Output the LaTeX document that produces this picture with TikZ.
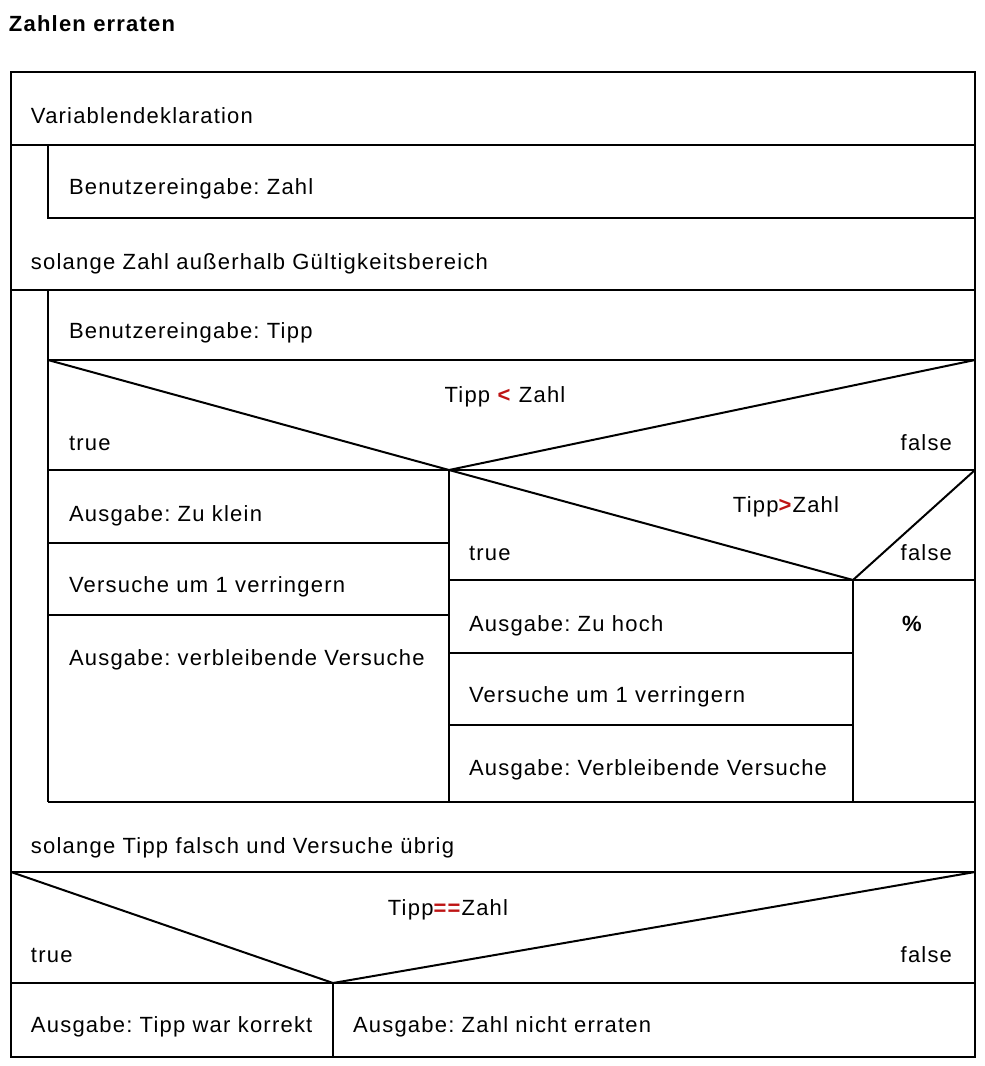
\documentclass[tikz,border=0pt]{standalone}
\usepackage{fontspec}
\setmainfont{Liberation Sans}[LetterSpace=5.5]
\frenchspacing
\definecolor{opred}{RGB}{190,20,20}
\newcommand{\opsym}[1]{\textcolor{opred}{\textbf{#1}}}
\tikzset{
  txt/.style={anchor=base west,inner sep=0pt,font=\fontsize{11}{14}\selectfont},
  txtr/.style={txt,anchor=base east},
  txtc/.style={txt,anchor=base},
}
\begin{document}
\begin{tikzpicture}[x=0.5pt,y=-0.5pt,line width=1pt]
    \useasboundingbox (0,0) rectangle (985,1066);
    \node[txt,font=\fontsize{11}{14}\selectfont\bfseries] (title) at (8,31) {Zahlen erraten};
    % frame and blocks
    \draw (11,72) rectangle (975,1057);
    \draw (11,145) -- (975,145);
    \draw (48,145) -- (48,218) -- (975,218);
    \draw (11,290) -- (975,290);
    \draw (48,290) -- (48,802);
    \draw (48,360) -- (975,360);
    \coordinate (tipA) at (449,470);
    \draw (48,360) -- (tipA) -- (975,360);
    \draw (48,470) -- (975,470);
    \draw (tipA) -- (449,802);
    \draw (48,543) -- (449,543);
    \draw (48,615) -- (449,615);
    \coordinate (tipB) at (853,580);
    \draw (tipA) -- (tipB) -- (975,470);
    \draw (449,580) -- (975,580);
    \draw (tipB) -- (853,802);
    \draw (449,653) -- (853,653);
    \draw (449,725) -- (853,725);
    \draw (48,802) -- (975,802);
    \draw (11,872) -- (975,872);
    \coordinate (tipC) at (333,983);
    \draw (11,872) -- (tipC) -- (975,872);
    \draw (11,983) -- (975,983);
    \draw (tipC) -- (333,1057);
    % texts
    \node[txt] (decl) at (30,123) {Variablendeklaration};
    \node[txt] (inZahl) at (68,194) {Benutzereingabe: Zahl};
    \node[txt] (loop1) at (30,269) {solange Zahl außerhalb Gültigkeitsbereich};
    \node[txt] (inTipp) at (68,338) {Benutzereingabe: Tipp};
    \node[txtc] (condA) at (505,402) {Tipp \opsym{<} Zahl};
    \node[txt] (trueA) at (68,450) {true};
    \node[txtr] (falseA) at (953,450) {false};
    \node[txt] (klein) at (68,521) {Ausgabe: Zu klein};
    \node[txt] (versA) at (68,592) {Versuche um 1 verringern};
    \node[txt] (restA) at (68,665) {Ausgabe: verbleibende Versuche};
    \node[txtc] (condB) at (786,512) {Tipp\opsym{>}Zahl};
    \node[txt] (trueB) at (468,560) {true};
    \node[txtr] (falseB) at (953,560) {false};
    \node[txtc,font=\fontsize{11}{14}\selectfont\bfseries] (empty) at (912,631) {\%};
    \node[txt] (hoch) at (468,631) {Ausgabe: Zu hoch};
    \node[txt] (versB) at (468,702) {Versuche um 1 verringern};
    \node[txt] (restB) at (468,775) {Ausgabe: Verbleibende Versuche};
    \node[txt] (loop2) at (30,853) {solange Tipp falsch und Versuche übrig};
    \node[txtc] (condC) at (448,915) {Tipp\opsym{==}Zahl};
    \node[txt] (trueC) at (30,962) {true};
    \node[txtr] (falseC) at (953,962) {false};
    \node[txt] (korrekt) at (30,1032) {Ausgabe: Tipp war korrekt};
    \node[txt] (nicht) at (352,1032) {Ausgabe: Zahl nicht erraten};
\end{tikzpicture}
\end{document}
